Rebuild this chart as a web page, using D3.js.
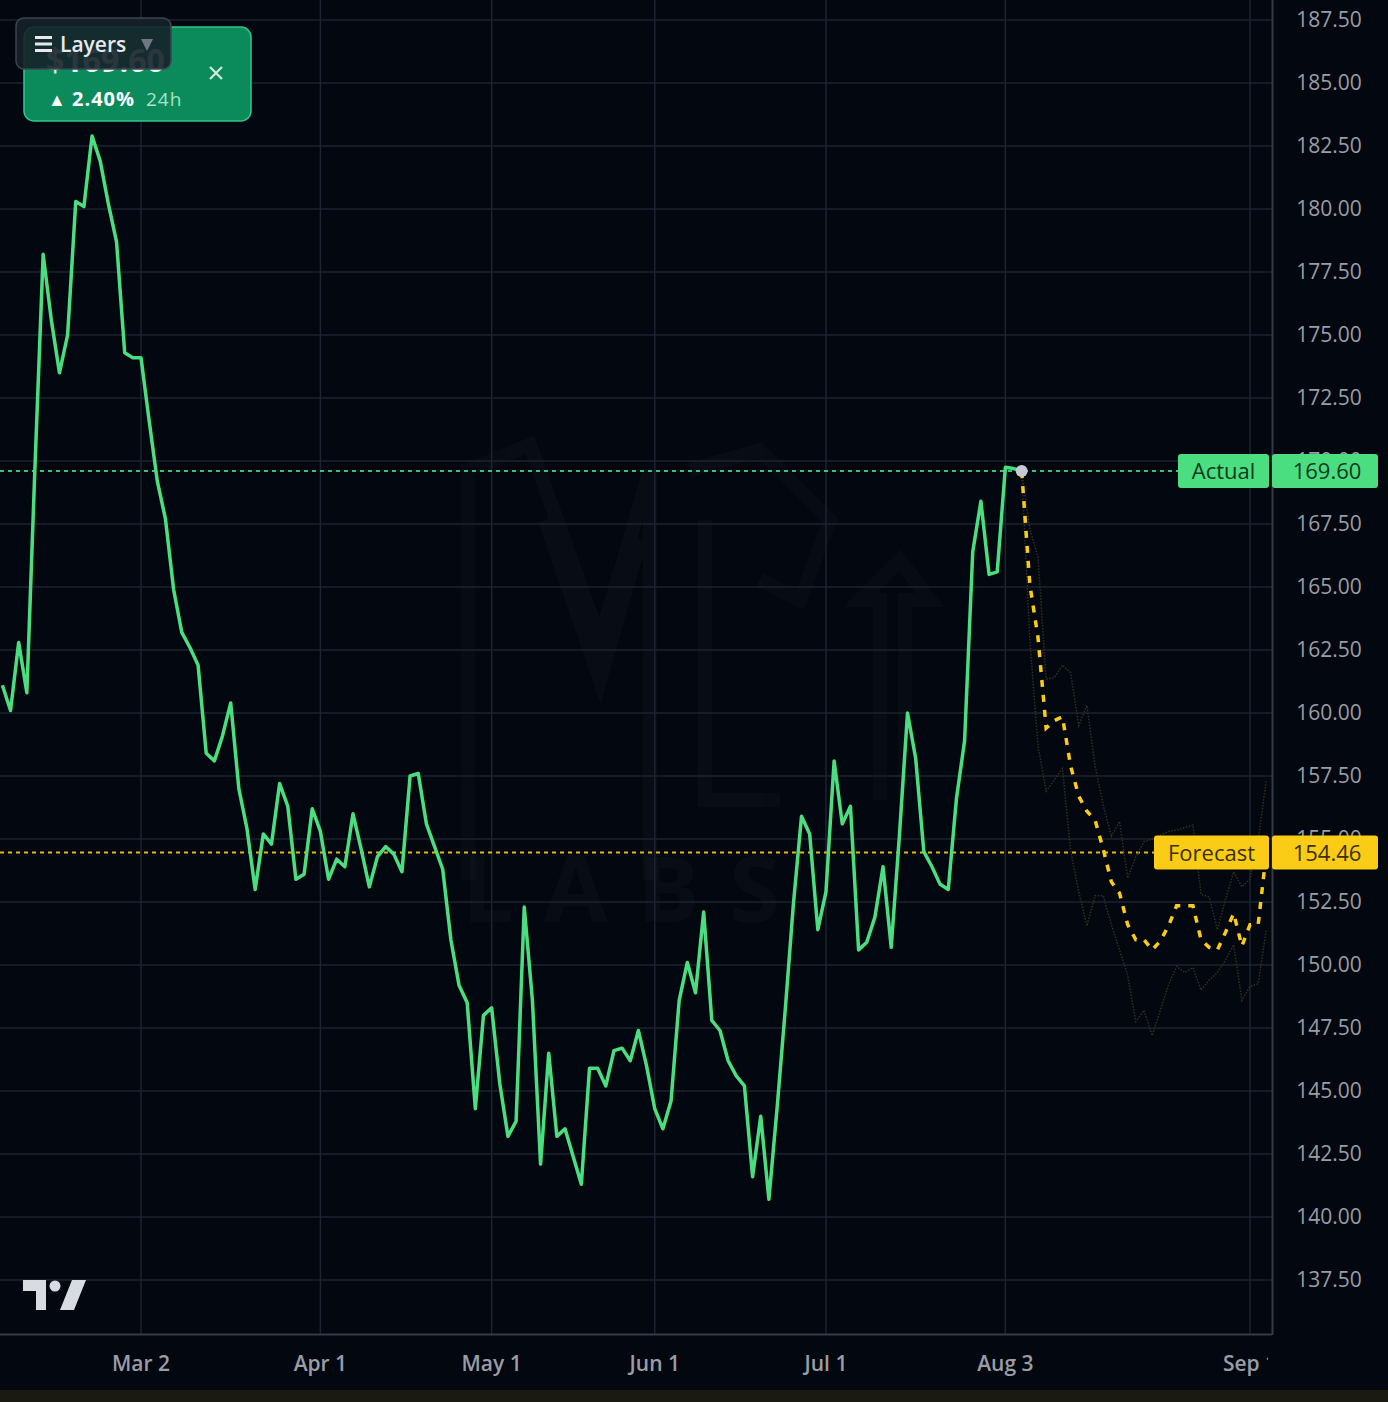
<!DOCTYPE html>
<html>
<meta charset="utf-8">
<head>
<style>
  body { margin: 0; background: #03070f; }
  svg { display: block; font-family: "Open Sans", Roboto, sans-serif; }
</style>
</head>
<body>
<script src="https://d3js.org/d3.v7.min.js"></script>
<script>
// actual closes, one per trading day, first one is 17 days before Mar 2
var actualStart = -17;
var actualValues = [
  161.1, 160.1, 162.8, 160.8, 169.8, 178.2, 175.6, 173.5, 175.0, 180.3,
  180.1, 182.9, 181.9, 180.2, 178.7, 174.3, 174.1, 174.1, 171.6, 169.2,
  167.7, 164.9, 163.2, 162.6, 161.9, 158.4, 158.1, 159.1, 160.4, 157.0,
  155.4, 153.0, 155.2, 154.8, 157.2, 156.3, 153.4, 153.6, 156.2, 155.3,
  153.4, 154.2, 153.9, 156.0, 154.6, 153.1, 154.3, 154.7, 154.4, 153.7,
  157.5, 157.6, 155.6, 154.7, 153.8, 151.0, 149.2, 148.5, 144.3, 148.0,
  148.3, 145.3, 143.2, 143.8, 152.3, 148.6, 142.1, 146.5, 143.2, 143.5,
  142.4, 141.3, 145.9, 145.9, 145.2, 146.6, 146.7, 146.2, 147.4, 146.0,
  144.3, 143.5, 144.6, 148.6, 150.1, 148.9, 152.1, 147.8, 147.4, 146.2,
  145.6, 145.2, 141.6, 144.0, 140.7, 144.3, 148.2, 152.4, 155.9, 155.2,
  151.4, 152.9, 158.1, 155.6, 156.3, 150.6, 150.9, 151.9, 153.9, 150.7,
  155.1, 160.0, 158.2, 154.5, 153.9, 153.2, 153.0, 156.6, 158.9, 166.4,
  168.4, 165.5, 165.6, 169.75, 169.7, 169.6
];

// forecast starts at the last actual point
var forecastStart = 108;
var forecastValues = [
  169.6, 165.1, 163.0, 159.4, 159.7, 159.85, 157.9, 156.7, 156.1, 155.75,
  154.6, 153.3, 152.85, 151.6, 151.0, 151.0, 150.6, 150.95, 151.55, 152.35,
  152.35, 152.35, 151.0, 150.7, 150.6, 151.3, 152.05, 150.75, 151.6, 151.6,
  154.46
];
var upperBand = [
  169.6, 167.3, 166.2, 161.35, 161.4, 161.9, 161.6, 159.5, 160.3, 157.9,
  156.35, 155.1, 155.7, 153.45, 154.3, 154.9, 155.0, 155.15, 155.3, 155.35,
  155.45, 155.55, 152.8, 152.7, 151.4, 152.6, 153.7, 153.1, 153.4, 154.95,
  157.35
];
var lowerBand = [
  169.6, 162.9, 158.7, 156.9, 157.35, 157.8, 154.55, 152.9, 151.55, 152.75,
  152.75, 151.6, 150.6, 149.6, 147.75, 148.2, 147.2, 148.2, 149.2, 149.95,
  149.7, 149.9, 149.0, 149.4, 149.7, 150.2, 150.8, 148.6, 149.15, 149.25,
  151.4
];

var xTickLabels = ["Mar 2", "Apr 1", "May 1", "Jun 1", "Jul 1", "Aug 3", "Sep 1"];
var xTickIndex = [0, 22, 43, 63, 84, 106, 136];
var yTicks = d3.range(137.5, 187.51, 2.5);

var lastActual = 169.60;
var lastForecast = 154.46;

var width = 1388, height = 1402;
var plotRight = 1272, plotBottom = 1334;

var svg = d3.select("body").append("svg")
  .attr("width", width).attr("height", height);

svg.append("rect").attr("width", width).attr("height", height).attr("fill", "#03070f");
svg.append("rect").attr("x", 0).attr("y", 1390).attr("width", width).attr("height", 12).attr("fill", "#1a1a12");

var x = d3.scaleLinear().domain([0, 136]).range([141, 1250]);
var y = d3.scaleLinear().domain([137.5, 187.5]).range([1280, 20]);

svg.append("clipPath").attr("id", "plot")
  .append("rect").attr("x", 0).attr("y", 0).attr("width", plotRight).attr("height", plotBottom);

var g = svg.append("g").attr("clip-path", "url(#plot)");

// watermark, barely visible
var wm = g.append("g").attr("opacity", 0.02).attr("fill", "none").attr("stroke", "#fff").attr("stroke-width", 14);
wm.append("path").attr("d", "M468,880 V470 L530,445 L600,640 L650,470 V880 M545,520 L600,680 L640,540");
wm.append("path").attr("d", "M690,470 L760,450 L830,520 L800,600 L760,580 M705,520 V800 L780,800 M880,800 V600 L860,600 L900,560 L930,600 L905,600 V800");
g.append("text").attr("x", 462).attr("y", 922)
  .attr("font-size", 92).attr("font-weight", 700).attr("letter-spacing", 30)
  .attr("fill", "#fff").attr("opacity", 0.02).text("LABS");

// grid
g.selectAll(".hgrid").data(yTicks).join("line")
  .attr("x1", 0).attr("x2", plotRight)
  .attr("y1", d => y(d)).attr("y2", d => y(d))
  .attr("stroke", "#1d2431").attr("stroke-width", 1.5);
g.selectAll(".vgrid").data(xTickIndex).join("line")
  .attr("x1", d => x(d)).attr("x2", d => x(d))
  .attr("y1", 0).attr("y2", plotBottom)
  .attr("stroke", "#1d2431").attr("stroke-width", 1.5);

// reference lines for last actual / last forecast
g.append("line").attr("x1", 0).attr("x2", 1178)
  .attr("y1", y(lastActual)).attr("y2", y(lastActual))
  .attr("stroke", "#34c47c").attr("stroke-width", 2).attr("stroke-dasharray", "4 4");
g.append("line").attr("x1", 0).attr("x2", 1154)
  .attr("y1", y(lastForecast)).attr("y2", y(lastForecast))
  .attr("stroke", "#e3b80e").attr("stroke-width", 2).attr("stroke-dasharray", "4 4");

var line = d3.line()
  .x(d => x(d.i))
  .y(d => y(d.v));

function toPoints(start, values) {
  return values.map((v, k) => ({ i: start + k, v: v }));
}

// forecast band edges
[upperBand, lowerBand].forEach(function (band) {
  g.append("path").datum(toPoints(forecastStart, band))
    .attr("d", line).attr("fill", "none")
    .attr("stroke", "#34301f").attr("stroke-width", 1.5)
    .attr("stroke-dasharray", "1.5 1.5");
});

g.append("path").datum(toPoints(actualStart, actualValues))
  .attr("d", line).attr("fill", "none")
  .attr("stroke", "#4ade80").attr("stroke-width", 3.5)
  .attr("stroke-linejoin", "round");

g.append("path").datum(toPoints(forecastStart, forecastValues))
  .attr("d", line).attr("fill", "none")
  .attr("stroke", "#facc15").attr("stroke-width", 3.5)
  .attr("stroke-dasharray", "7 8");

g.append("circle").attr("cx", x(forecastStart)).attr("cy", y(lastActual)).attr("r", 6)
  .attr("fill", "#c5c9d1");

// tradingview logo
var logo = svg.append("g").attr("fill", "#d9dbe3");
logo.append("path").attr("d", "M23,1280 H46 V1310 H36 V1291 H23 Z");
logo.append("circle").attr("cx", 55).attr("cy", 1286).attr("r", 5.5);
logo.append("path").attr("d", "M60,1310 L72,1280 H86 L74,1310 Z");

// axis borders
svg.append("line").attr("x1", plotRight + 0.5).attr("x2", plotRight + 0.5).attr("y1", 0).attr("y2", plotBottom + 1)
  .attr("stroke", "#363b48").attr("stroke-width", 2);
svg.append("line").attr("x1", 0).attr("x2", plotRight).attr("y1", plotBottom + 0.5).attr("y2", plotBottom + 0.5)
  .attr("stroke", "#363b48").attr("stroke-width", 2);

// y axis labels
svg.append("g").selectAll("text").data(yTicks).join("text")
  .attr("x", 1329).attr("y", d => y(d)).attr("dy", "0.35em")
  .attr("text-anchor", "middle").attr("font-size", 21)
  .attr("fill", "#9a9da6").text(d => d.toFixed(2));

// x axis labels
svg.append("clipPath").attr("id", "xaxis")
  .append("rect").attr("x", 0).attr("y", plotBottom).attr("width", plotRight - 4).attr("height", 56);
svg.append("g").attr("clip-path", "url(#xaxis)")
  .selectAll("text").data(xTickIndex).join("text")
  .attr("x", d => x(d)).attr("y", 1371)
  .attr("text-anchor", "middle").attr("font-size", 21).attr("font-weight", 600)
  .attr("fill", "#9a9da6").text((d, k) => xTickLabels[k]);

// price tags
function tag(value, name, nameX, fill, ink) {
  var cy = y(value);
  var t = svg.append("g");
  t.append("rect").attr("x", nameX).attr("y", cy - 17).attr("width", 1269 - nameX).attr("height", 34)
    .attr("rx", 3).attr("fill", fill);
  t.append("rect").attr("x", 1272).attr("y", cy - 17).attr("width", 106).attr("height", 34)
    .attr("rx", 3).attr("fill", fill);
  t.append("text").attr("x", (nameX + 1269) / 2).attr("y", cy).attr("dy", "0.36em")
    .attr("text-anchor", "middle").attr("font-size", 22).attr("fill", ink).text(name);
  t.append("text").attr("x", 1327).attr("y", cy).attr("dy", "0.36em")
    .attr("text-anchor", "middle").attr("font-size", 22).attr("fill", ink).text(value.toFixed(2));
}
tag(lastActual, "Actual", 1178, "#4ade80", "#12391f");
tag(lastForecast, "Forecast", 1154, "#facc15", "#3b3000");

// price card (top left)
var card = svg.append("g");
card.append("rect").attr("x", 24).attr("y", 27).attr("width", 227).attr("height", 94).attr("rx", 10)
  .attr("fill", "#0b8a5c").attr("stroke", "#33c68a").attr("stroke-width", 1.5);
card.append("text").attr("x", 46).attr("y", 72).attr("font-size", 32).attr("font-weight", 700)
  .attr("fill", "#eaf6f0").text("$" + lastActual.toFixed(2));
card.append("path").attr("d", "M210,67 L222,79 M222,67 L210,79")
  .attr("stroke", "#cfeadf").attr("stroke-width", 2.2);
card.append("text").attr("x", 48).attr("y", 106).attr("font-size", 18).attr("fill", "#ffffff").text("▲");
card.append("text").attr("x", 72).attr("y", 106).attr("font-size", 20).attr("font-weight", 700)
  .attr("letter-spacing", 1).attr("fill", "#ffffff").text("2.40%");
card.append("text").attr("x", 146).attr("y", 106).attr("font-size", 19)
  .attr("letter-spacing", 1).attr("fill", "#a9e2c8").text("24h");

// layers button
var btn = svg.append("g");
btn.append("rect").attr("x", 16).attr("y", 18).attr("width", 155).attr("height", 51).attr("rx", 8)
  .attr("fill", "#16212a").attr("fill-opacity", 0.9).attr("stroke", "#3a4652").attr("stroke-width", 1.5);
btn.append("path").attr("d", "M35,37.5 H52 M35,44 H52 M35,50.5 H52")
  .attr("stroke", "#e6e8ec").attr("stroke-width", 3);
btn.append("text").attr("x", 60).attr("y", 52).attr("font-size", 21).attr("font-weight", 600)
  .attr("fill", "#e6e8ec").text("Layers");
btn.append("path").attr("d", "M141,39 H153 L147,51 Z").attr("fill", "#6f7782");
</script>
</body>
</html>
